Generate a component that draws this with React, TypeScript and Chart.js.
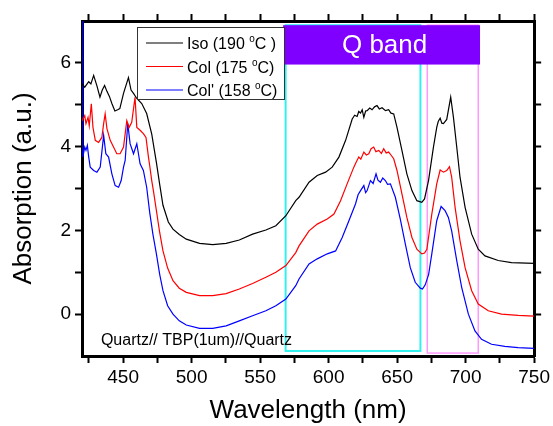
import React, { useEffect, useRef } from 'react';
import { Chart, registerables } from 'chart.js';

Chart.register(...registerables);

const FONT = '"Liberation Sans", Arial, sans-serif';

// Iso (190 °C) — black
const isoData: [number, number][] = [
  [420, 5.5], [422, 5.42], [424.9, 5.55], [426.5, 5.5], [428.5, 5.7], [430.9, 5.45], [433.1, 5.18],
  [434.8, 5.35], [436.5, 5.46], [438.2, 5.32], [440, 5.2], [441.8, 5.03], [444, 4.85], [446, 4.88],
  [447.6, 4.91], [450.3, 5.27], [452, 5.45], [453.9, 5.65], [455.8, 5.35], [457.6, 5.27], [460, 5.15],
  [463.6, 5.03], [467.2, 4.79], [470.9, 4.3], [474.4, 3.6], [476.7, 3.1], [479.1, 2.6], [483, 2.2],
  [486.4, 2.03], [491, 1.9], [496.1, 1.79], [505.8, 1.69], [515.4, 1.66], [525.2, 1.69], [534.8, 1.77],
  [544.5, 1.91], [554.2, 2.01], [561.5, 2.11], [568.8, 2.35], [576, 2.71], [578.4, 2.79], [585.7, 3.15],
  [591.7, 3.31], [597.8, 3.39], [602.6, 3.51], [607.5, 3.75], [612.4, 4.15], [617.2, 4.66], [619, 4.75],
  [620.8, 4.72], [622, 4.84], [623.3, 4.8], [624.5, 4.88], [625.7, 4.7], [627, 4.85], [628.1, 4.86],
  [630, 4.92], [631.7, 4.88], [633.5, 4.95], [635.3, 4.98], [637, 4.9], [639, 4.93], [641.5, 4.86],
  [643.8, 4.88], [645.5, 4.8], [647.5, 4.78], [649.9, 4.46], [653.5, 3.91], [657.1, 3.35], [660.8, 2.95],
  [664.4, 2.71], [668, 2.67], [670, 2.75], [672.9, 3.19], [676.5, 3.99], [678.9, 4.46], [680, 4.6],
  [681.4, 4.68], [682.6, 4.56], [683.8, 4.55], [686.2, 4.65], [689.1, 5.18], [691.1, 4.7], [693.5, 3.99],
  [695.9, 3.27], [699.6, 2.55], [704.4, 1.91], [709.2, 1.55], [714.1, 1.39], [723.8, 1.28], [733.5, 1.23],
  [750, 1.21],
];

// Col (175 °C) — red
const colData: [number, number][] = [
  [420, 4.62], [422, 4.74], [422.9, 4.55], [424.4, 4.7], [425.3, 4.5], [426.8, 5.02], [428, 4.46],
  [429.7, 4.15], [432.1, 4.1], [434.5, 4.22], [435.8, 4.55], [436.9, 4.78], [438.2, 4.43], [440.6, 4.15],
  [443, 3.99], [445.4, 3.83], [447.8, 3.83], [450.3, 3.99], [452.7, 4.62], [454.4, 4.46], [456.3, 4.58],
  [458.7, 5.18], [460, 4.46], [462.4, 4.39], [464.8, 4.31], [466.7, 4.22], [468.5, 3.75], [469.4, 3.55],
  [470.9, 3.19], [472.1, 2.95], [474.3, 2.47], [476.7, 1.95], [479.1, 1.51], [482.5, 1.1], [486.4, 0.8],
  [491, 0.62], [496.1, 0.52], [505.8, 0.44], [515.4, 0.44], [525.2, 0.49], [534.8, 0.6], [544.5, 0.73],
  [554.2, 0.88], [561.5, 1.0], [568.8, 1.16], [576, 1.47], [578.4, 1.63], [585.7, 1.99], [591.7, 2.15],
  [599, 2.27], [603.9, 2.39], [608.7, 2.71], [613.5, 3.11], [618.4, 3.51], [620, 3.62], [622, 3.75],
  [623.5, 3.7], [625.7, 3.87], [627.5, 3.8], [629.3, 3.83], [631, 3.95], [632.9, 3.99], [634.5, 3.88],
  [636.6, 3.91], [638.5, 3.84], [640.2, 3.95], [642, 3.85], [643.8, 3.87], [645.5, 3.8], [647.5, 3.71],
  [649.9, 3.43], [653.5, 2.87], [657.1, 2.31], [660.8, 1.83], [664.4, 1.55], [668, 1.44], [670, 1.46],
  [671.7, 1.55], [675.3, 2.39], [678.9, 3.11], [681.4, 3.44], [683.8, 3.39], [686.2, 3.43], [688.2, 3.52],
  [689.8, 3.27], [692.3, 2.55], [695.9, 1.75], [699.6, 1.11], [704.4, 0.56], [709.2, 0.24], [716.5, 0.08],
  [726.2, 0.0], [738.3, -0.03], [750, -0.05],
];

// Col' (158 °C) — blue
const colPData: [number, number][] = [
  [420.6, 7.2], [420.6, 3.75], [422, 3.99], [422.9, 3.91], [423.9, 4.03], [424.9, 3.75], [426, 3.51],
  [428.5, 3.43], [430.9, 3.39], [433.3, 3.51], [435.8, 4.27], [437.4, 3.83], [439.4, 3.75], [441.8, 3.35],
  [444.2, 3.07], [446.7, 3.03], [448.6, 3.19], [450.3, 3.51], [451.5, 3.67], [453.4, 4.55], [455.1, 4.07],
  [457.6, 3.83], [460, 4.07], [462.4, 3.59], [464.8, 3.43], [467.2, 3.03], [469.4, 2.43], [471.8, 1.9],
  [474.3, 1.44], [476.7, 0.95], [479.1, 0.56], [482.5, 0.2], [486.4, 0.0], [491, -0.16], [496.1, -0.26],
  [505.8, -0.34], [515.4, -0.34], [525.2, -0.28], [534.8, -0.16], [544.5, -0.04], [554.2, 0.08],
  [561.5, 0.2], [568.8, 0.36], [576, 0.68], [578.4, 0.84], [585.7, 1.2], [591.7, 1.32], [599, 1.44],
  [605.1, 1.51], [609.9, 1.83], [614.8, 2.23], [619.6, 2.63], [621.5, 2.85], [623.3, 2.95], [625.7, 3.07],
  [627, 2.9], [628.1, 2.95], [630.5, 3.19], [632.5, 3.12], [634.6, 3.35], [636, 3.2], [637.8, 3.15],
  [639.5, 3.25], [641.4, 3.19], [643, 3.1], [645.1, 3.11], [648.7, 2.79], [652.3, 2.27], [656, 1.67],
  [659.6, 1.11], [663.2, 0.76], [666.9, 0.62], [668.5, 0.6], [670.5, 0.7], [673, 0.95], [675.3, 1.44],
  [678.9, 2.23], [682.1, 2.57], [685, 2.47], [687.4, 2.31], [689.8, 1.99], [693.5, 1.28], [697.1, 0.64],
  [702, 0.0], [706.8, -0.4], [711.6, -0.6], [718.9, -0.72], [728.6, -0.77], [738.3, -0.8], [750, -0.82],
];

const seriesNames = ['Iso (190 ^oC )', 'Col (175 ^oC)', "Col' (158 ^oC)"];
const seriesColors = ['#000000', '#ff0000', '#0000ff'];

const xTickValues = [425, 450, 475, 500, 525, 550, 575, 600, 625, 650, 675, 700, 725, 750];
const xLabelValues = [450, 500, 550, 600, 650, 700, 750];
const yTickValues = [0, 1, 2, 3, 4, 5, 6];
const yLabelValues = [0, 2, 4, 6];

// annotation regions (data units)
const qBandX = [566.8, 710.5];
const qBandY = [5.96, 6.9];
const cyanBoxX = [568.6, 667];
const cyanBoxY = [-0.88, 6.9];
const pinkBoxX = [672, 709.2];
const pinkBoxY = [-0.93, 6.9];
const sampleText = 'Quartz// TBP(1um)//Quartz';
const samplePos = [433.8, -0.64];

function drawSup(ctx: CanvasRenderingContext2D, text: string, x: number, y: number, size: number) {
  const parts = text.split('^o');
  ctx.font = `${size}px ${FONT}`;
  ctx.textBaseline = 'alphabetic';
  ctx.textAlign = 'left';
  ctx.fillText(parts[0], x, y);
  let cx = x + ctx.measureText(parts[0]).width;
  if (parts.length > 1) {
    ctx.font = `${Math.round(size * 0.62)}px ${FONT}`;
    ctx.fillText('o', cx, y - size * 0.42);
    cx += ctx.measureText('o').width;
    ctx.font = `${size}px ${FONT}`;
    ctx.fillText(parts[1], cx, y);
  }
}

export default function App() {
  const ref = useRef<HTMLCanvasElement>(null);
  useEffect(() => {
    if (!ref.current) return;
    const toPts = (d: [number, number][]) => d.map(([x, y]) => ({ x, y }));

    const overlay = {
      id: 'overlay',
      beforeDatasetsDraw(chart: any) {
        const { ctx, scales } = chart;
        const xs = scales.x, ys = scales.y;
        ctx.save();
        const rect = (bx: number[], by: number[], color: string, w: number) => {
          const x1 = xs.getPixelForValue(bx[0]), x2 = xs.getPixelForValue(bx[1]);
          const y1 = ys.getPixelForValue(by[1]), y2 = ys.getPixelForValue(by[0]);
          ctx.strokeStyle = color;
          ctx.lineWidth = w;
          ctx.strokeRect(x1, y1, x2 - x1, y2 - y1);
        };
        rect(cyanBoxX, cyanBoxY, '#33f0f0', 2);
        rect(pinkBoxX, pinkBoxY, '#ff99ff', 1.5);
        ctx.restore();
      },
      afterDatasetsDraw(chart: any) {
        const { ctx, scales, chartArea } = chart;
        const xs = scales.x, ys = scales.y;
        ctx.save();
        // Q band box
        const qx1 = xs.getPixelForValue(qBandX[0]), qx2 = xs.getPixelForValue(qBandX[1]);
        const qy1 = ys.getPixelForValue(qBandY[1]), qy2 = ys.getPixelForValue(qBandY[0]);
        ctx.fillStyle = '#8000ff';
        ctx.fillRect(qx1, qy1, qx2 - qx1, qy2 - qy1);
        ctx.fillStyle = '#ffffff';
        ctx.font = `26px ${FONT}`;
        ctx.textAlign = 'center';
        ctx.textBaseline = 'middle';
        ctx.fillText('Q band', (qx1 + qx2) / 2 + 3, (qy1 + qy2) / 2 + 1);

        // sample text
        ctx.fillStyle = '#000';
        ctx.font = `16px ${FONT}`;
        ctx.textAlign = 'left';
        ctx.textBaseline = 'middle';
        ctx.fillText(sampleText, xs.getPixelForValue(samplePos[0]), ys.getPixelForValue(samplePos[1]));

        // legend
        const bx = chartArea.left + 55, by = chartArea.top + 6, bw = 147, bh = 72;
        ctx.fillStyle = '#fff';
        ctx.fillRect(bx, by, bw, bh);
        ctx.strokeStyle = '#333';
        ctx.lineWidth = 1;
        ctx.strokeRect(bx + 0.5, by + 0.5, bw, bh);
        seriesNames.forEach((name, i) => {
          const ry = by + 16 + i * 23.5;
          ctx.strokeStyle = seriesColors[i];
          ctx.lineWidth = 1.2;
          ctx.beginPath();
          ctx.moveTo(bx + 9, ry);
          ctx.lineTo(bx + 46, ry);
          ctx.stroke();
          ctx.fillStyle = '#000';
          drawSup(ctx, name, bx + 50, ry + 6, 16);
        });
        ctx.restore();
      },
    };

    const gridOpts = {
      display: true,
      drawOnChartArea: false,
      drawTicks: true,
      tickLength: 7,
      tickWidth: 2,
      tickColor: '#000',
    };
    const borderOpts = { display: true, color: '#000', width: 3 };

    const chart = new Chart(ref.current, {
      type: 'line',
      data: {
        datasets: [
          { label: 'Iso', data: toPts(isoData), borderColor: seriesColors[0] },
          { label: 'Col', data: toPts(colData), borderColor: seriesColors[1] },
          { label: "Col'", data: toPts(colPData), borderColor: seriesColors[2] },
        ].map((d) => ({ ...d, borderWidth: 1.2, pointRadius: 0, tension: 0, fill: false })),
      },
      options: {
        animation: false,
        responsive: true,
        maintainAspectRatio: false,
        devicePixelRatio: 1,
        parsing: false as any,
        layout: { padding: { top: 14, right: 10, bottom: 0, left: 0 } },
        plugins: { legend: { display: false }, tooltip: { enabled: false } },
        scales: {
          x: {
            type: 'linear',
            position: 'bottom',
            min: 420,
            max: 750,
            grid: gridOpts,
            border: borderOpts,
            afterBuildTicks: (s: any) => { s.ticks = xTickValues.map((v) => ({ value: v })); },
            afterFit: (s: any) => { s.height = 70; },
            ticks: {
              autoSkip: false,
              maxRotation: 0,
              padding: 3,
              color: '#000',
              font: { family: FONT, size: 19 },
              callback: (v: any) => (xLabelValues.includes(Number(v)) ? String(v) : ''),
            },
            title: {
              display: true,
              text: 'Wavelength (nm)',
              color: '#000',
              font: { family: FONT, size: 26 },
              padding: { top: 0, bottom: 0 },
            },
          },
          x2: {
            type: 'linear',
            position: 'top',
            min: 420,
            max: 750,
            grid: gridOpts,
            border: borderOpts,
            afterBuildTicks: (s: any) => { s.ticks = xTickValues.map((v) => ({ value: v })); },
            ticks: { display: false },
          },
          y: {
            type: 'linear',
            position: 'left',
            min: -1,
            max: 7,
            grid: gridOpts,
            border: borderOpts,
            afterBuildTicks: (s: any) => { s.ticks = yTickValues.map((v) => ({ value: v })); },
            afterFit: (s: any) => { s.width = 82; },
            ticks: {
              autoSkip: false,
              padding: 4,
              color: '#000',
              font: { family: FONT, size: 19 },
              callback: (v: any) => (yLabelValues.includes(Number(v)) ? String(v) : ''),
            },
            title: {
              display: true,
              text: 'Absorption (a.u.)',
              color: '#000',
              font: { family: FONT, size: 26 },
              padding: { top: 8, bottom: 0 },
            },
          },
          y2: {
            type: 'linear',
            position: 'right',
            min: -1,
            max: 7,
            grid: gridOpts,
            border: borderOpts,
            afterBuildTicks: (s: any) => { s.ticks = yTickValues.map((v) => ({ value: v })); },
            ticks: { display: false },
          },
        },
      } as any,
      plugins: [overlay],
    });
    return () => chart.destroy();
  }, []);

  return (
    <div style={{ position: 'absolute', left: 0, top: 0, width: 553, height: 426, background: '#fff' }}>
      <canvas ref={ref} />
    </div>
  );
}
